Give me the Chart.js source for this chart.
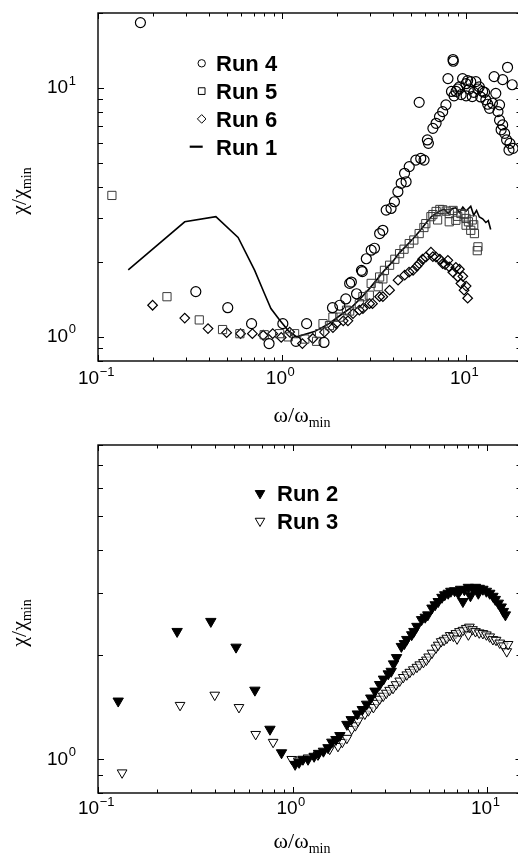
<!DOCTYPE html>
<html>
<head>
<meta charset="utf-8">
<script src="https://cdn.jsdelivr.net/npm/chart.js@4.4.0/dist/chart.umd.min.js"></script>
<style>
  html, body { margin: 0; padding: 0; background: #fff; width: 518px; height: 854px; overflow: hidden; }
  canvas { position: absolute; left: 0; }
  #chartTop { top: 0; }
  #chartBottom { top: 430px; }
</style>
</head>
<body>
<canvas id="chartTop" width="524" height="430"></canvas>
<canvas id="chartBottom" width="524" height="424"></canvas>
<script>
// ---- top panel data (omega/omega_min, chi/chi_min) ----
const run4X = [0.17, 0.34, 0.507, 0.683, 0.85, 1.01, 1.19, 1.36, 1.69, 1.88, 2.06, 2.22, 2.33, 2.54, 2.73, 2.38, 2.70, 2.87, 3.05, 3.18, 3.39, 3.53, 3.68, 3.91, 4.08, 4.26, 4.44, 4.72, 4.63, 4.91, 5.33, 5.67, 5.91, 6.16, 6.24, 6.60, 6.87, 7.17, 7.46, 7.77, 5.56, 7.97, 8.49, 8.52, 8.33, 8.82, 9.2, 9.57, 9.99, 10.4, 10.8, 10.6, 11.3, 11.8, 12.3, 12.8, 13.4, 13.9, 14.5, 14.2, 15.8, 16.8, 17.8, 14.9, 15.2, 15.5, 16.2, 16.6, 17.3, 18.0, 17.1, 15.8, 15.2, 9.4, 10.2, 11.0, 11.6, 12.0, 10.0, 12.6, 13.1, 9.0, 8.6];
const run4Y = [18.3, 1.52, 1.31, 1.13, 0.94, 1.13, 0.96, 1.13, 0.95, 1.31, 1.34, 1.42, 1.64, 1.49, 1.83, 1.66, 1.85, 2.06, 2.23, 2.27, 2.60, 2.68, 3.23, 3.28, 3.49, 3.83, 4.14, 4.20, 4.54, 4.83, 5.13, 5.21, 5.13, 6.18, 5.99, 6.88, 7.21, 7.67, 8.03, 8.55, 8.75, 10.9, 13.0, 12.8, 9.68, 9.68, 10.1, 10.9, 10.4, 9.9, 9.23, 10.6, 10.6, 10.1, 9.68, 8.96, 8.28, 8.68, 9.51, 11.1, 10.8, 12.1, 10.3, 8.03, 7.42, 6.79, 6.57, 6.18, 5.99, 5.72, 5.63, 7.1, 8.55, 9.4, 10.7, 9.6, 9.9, 9.2, 9.3, 9.6, 8.6, 9.9, 9.3];

const run5X = [0.119, 0.237, 0.355, 0.475, 0.59, 0.8, 0.97, 1.08, 1.17, 1.33, 1.54, 1.6, 1.67, 1.81, 1.89, 2.06, 2.24, 2.33, 2.63, 2.75, 2.98, 3.05, 3.33, 3.39, 3.53, 3.6, 3.84, 4.1, 4.35, 4.6, 4.91, 5.2, 5.56, 5.9, 6.04, 6.44, 6.6, 6.87, 7.0, 7.2, 7.46, 7.8, 8.1, 8.1, 8.5, 8.8, 9.0, 9.37, 9.8, 10.0, 10.0, 10.3, 10.6, 10.8, 11.0, 11.1, 11.5, 11.6];
const run5Y = [3.70, 1.45, 1.17, 1.07, 1.03, 1.02, 1.03, 1.0, 1.03, 0.98, 0.96, 1.03, 1.13, 1.11, 1.2, 1.2, 1.28, 1.27, 1.36, 1.45, 1.47, 1.64, 1.59, 1.74, 1.71, 1.85, 1.94, 2.05, 2.16, 2.25, 2.37, 2.45, 2.60, 2.75, 2.85, 3.04, 3.1, 3.19, 2.95, 3.25, 3.24, 3.2, 3.13, 2.9, 3.22, 2.94, 3.05, 3.13, 3.1, 2.81, 2.99, 2.9, 2.68, 2.95, 2.82, 2.6, 2.22, 2.3];

const run6X = [0.198, 0.296, 0.396, 0.50, 0.595, 0.69, 0.79, 0.89, 0.99, 1.1, 1.29, 1.47, 1.70, 1.89, 1.97, 2.15, 2.28, 2.43, 2.63, 2.75, 2.99, 3.10, 3.39, 3.53, 3.84, 4.27, 4.64, 4.9, 5.15, 5.4, 5.56, 5.8, 6.04, 6.44, 6.6, 6.87, 7.2, 7.46, 7.7, 7.96, 8.10, 8.47, 8.8, 9.03, 9.2, 9.37, 9.6, 9.75, 10.0, 10.2];
const run6Y = [1.34, 1.19, 1.08, 1.04, 1.03, 1.03, 1.015, 1.03, 0.995, 1.045, 0.94, 0.985, 1.045, 1.09, 1.13, 1.16, 1.16, 1.24, 1.28, 1.30, 1.36, 1.36, 1.45, 1.45, 1.54, 1.69, 1.77, 1.82, 1.85, 1.92, 1.97, 2.05, 2.09, 2.19, 2.1, 2.09, 2.05, 1.97, 1.95, 2.03, 1.91, 1.82, 1.9, 1.74, 1.87, 1.64, 1.75, 1.54, 1.6, 1.43];

const run1X = [0.146, 0.296, 0.437, 0.577, 0.71, 0.80, 0.87, 0.97, 1.08, 1.2, 1.5, 1.8, 2.1, 2.4, 2.7, 3.0, 3.3, 3.6, 4.0, 4.35, 4.7, 5.15, 5.6, 6.04, 6.5, 7.17, 7.6, 8.0, 8.4, 8.8, 9.2, 9.6, 10.0, 10.6, 11.0, 11.4, 11.8, 12.3, 12.8, 13.2, 13.6];
const run1Y = [1.86, 2.90, 3.04, 2.51, 1.85, 1.5, 1.3, 1.17, 1.06, 1.0, 1.05, 1.13, 1.23, 1.32, 1.44, 1.57, 1.71, 1.85, 2.01, 2.18, 2.31, 2.48, 2.66, 2.86, 3.05, 3.2, 3.26, 3.13, 3.28, 3.3, 3.16, 3.32, 3.2, 3.35, 3.08, 3.22, 3.03, 2.98, 2.88, 2.93, 2.7];

// ---- bottom panel data ----
const run2X = [0.127, 0.255, 0.380, 0.512, 0.64, 0.765, 0.877, 1.03, 1.08, 1.13, 1.2, 1.29, 1.36, 1.44, 1.52, 1.59, 1.67, 1.75, 1.90, 2.0, 2.15, 2.28, 2.4, 2.52, 2.65, 2.8, 2.93, 3.1, 3.21, 3.3, 3.42, 3.62, 3.75, 3.86, 4.09, 4.2, 4.35, 4.6, 4.8, 4.95, 5.2, 5.4, 5.6, 5.85, 6.05, 6.3, 6.5, 6.8, 7.1, 7.3, 7.5, 7.63, 8.0, 8.2, 8.4, 8.7, 9.0, 9.1, 9.5, 9.9, 10.3, 10.7, 11.0, 11.4, 11.8, 12.1, 12.4];
const run2Y = [1.47, 2.33, 2.49, 2.10, 1.58, 1.22, 1.044, 0.967, 0.98, 1.0, 1.0, 1.02, 1.04, 1.055, 1.08, 1.12, 1.14, 1.17, 1.26, 1.3, 1.35, 1.39, 1.44, 1.5, 1.57, 1.64, 1.70, 1.76, 1.79, 1.88, 1.96, 2.11, 2.15, 2.21, 2.28, 2.33, 2.41, 2.52, 2.56, 2.60, 2.72, 2.78, 2.84, 2.92, 2.97, 3.0, 3.04, 3.05, 3.0, 3.08, 2.84, 3.07, 3.12, 2.95, 3.1, 3.12, 3.0, 3.1, 3.08, 3.04, 3.0, 2.94, 2.88, 2.81, 2.74, 2.66, 2.6];

const run3X = [0.133, 0.264, 0.398, 0.53, 0.646, 0.794, 0.99, 1.07, 1.2, 1.35, 1.55, 1.71, 1.8, 1.90, 2.01, 2.1, 2.17, 2.35, 2.45, 2.6, 2.7, 2.8, 2.92, 3.03, 3.15, 3.28, 3.4, 3.55, 3.7, 3.86, 4.0, 4.17, 4.35, 4.5, 4.7, 4.87, 5.0, 5.2, 5.45, 5.6, 5.8, 6.0, 6.2, 6.45, 6.7, 6.9, 7.0, 7.2, 7.5, 7.8, 8.0, 8.1, 8.4, 8.7, 9.1, 9.5, 9.9, 10.3, 10.7, 11.1, 11.6, 12.1, 12.6, 12.8];
const run3Y = [0.915, 1.43, 1.53, 1.41, 1.18, 1.12, 1.0, 0.99, 1.01, 1.03, 1.07, 1.09, 1.12, 1.15, 1.22, 1.25, 1.29, 1.35, 1.38, 1.41, 1.45, 1.49, 1.52, 1.55, 1.58, 1.60, 1.64, 1.68, 1.72, 1.75, 1.78, 1.81, 1.84, 1.87, 1.9, 1.93, 1.97, 2.02, 2.09, 2.13, 2.18, 2.2, 2.23, 2.27, 2.26, 2.3, 2.22, 2.33, 2.35, 2.38, 2.28, 2.4, 2.36, 2.33, 2.31, 2.3, 2.28, 2.25, 2.21, 2.2, 2.16, 2.12, 2.04, 2.14];

// ---- axes ----
const xTicksTop = [0.1, 0.2, 0.3, 0.4, 0.5, 0.6, 0.7, 0.8, 0.9, 1, 2, 3, 4, 5, 6, 7, 8, 9, 10, 20];
const yTicksTop = [0.8, 0.9, 1, 2, 3, 4, 5, 6, 7, 8, 9, 10, 20];
const xTicksBottom = [0.1, 0.2, 0.3, 0.4, 0.5, 0.6, 0.7, 0.8, 0.9, 1, 2, 3, 4, 5, 6, 7, 8, 9, 10];
const yTicksBottom = [0.8, 0.9, 1, 2, 3, 4, 5, 6, 7, 8];

const xy = (xs, ys) => xs.map((x, i) => ({ x: x, y: ys[i] }));
const isDecade = v => Math.abs(Math.log10(v) - Math.round(Math.log10(v))) < 1e-9;

function drawPower(ctx, value, x, y, align) {
  const exp = Math.round(Math.log10(value));
  const sup = exp < 0 ? '\u2212' + (-exp) : String(exp);
  ctx.textBaseline = 'middle';
  ctx.textAlign = 'left';
  ctx.font = '19px "Liberation Sans", Arial, sans-serif';
  const wb = ctx.measureText('10').width;
  ctx.font = '13px "Liberation Sans", Arial, sans-serif';
  const ws = ctx.measureText(sup).width;
  const start = align === 'center' ? x - (wb + ws) / 2 : x;
  ctx.font = '19px "Liberation Sans", Arial, sans-serif';
  ctx.fillText('10', start, y);
  ctx.font = '13px "Liberation Sans", Arial, sans-serif';
  ctx.fillText(sup, start + wb + 0.5, y - 7);
}

function drawSub(ctx, main, sub, cx, baseline) {
  ctx.textBaseline = 'alphabetic';
  ctx.textAlign = 'left';
  ctx.font = '22px "Liberation Serif", "Times New Roman", serif';
  const wm = ctx.measureText(main).width;
  ctx.font = '14px "Liberation Serif", "Times New Roman", serif';
  const ws = ctx.measureText(sub).width;
  const start = cx - (wm + ws) / 2;
  ctx.font = '22px "Liberation Serif", "Times New Roman", serif';
  ctx.fillText(main, start, baseline);
  ctx.font = '14px "Liberation Serif", "Times New Roman", serif';
  ctx.fillText(sub, start + wm, baseline + 5);
}

const paperAxes = {
  id: 'paperAxes',
  afterDatasetsDraw(chart, args, o) {
    const ctx = chart.ctx, a = chart.chartArea;
    const xs = chart.scales.x, ys = chart.scales.y;
    ctx.save();
    ctx.strokeStyle = '#000';
    ctx.fillStyle = '#000';
    ctx.lineWidth = 1;
    ctx.beginPath();
    xs.ticks.forEach(t => {
      const px = Math.round(xs.getPixelForValue(t.value)) + 0.5;
      const len = t.major ? 6 : 3.5;
      ctx.moveTo(px, a.bottom); ctx.lineTo(px, a.bottom - len);
      ctx.moveTo(px, a.top); ctx.lineTo(px, a.top + len);
    });
    ys.ticks.forEach(t => {
      const py = Math.round(ys.getPixelForValue(t.value)) + 0.5;
      const len = t.major ? 6 : 5;
      ctx.moveTo(a.left, py); ctx.lineTo(a.left + len, py);
      ctx.moveTo(a.right, py); ctx.lineTo(a.right - len, py);
    });
    ctx.stroke();
    ctx.lineWidth = 1.4;
    ctx.strokeRect(a.left, a.top, a.right - a.left, a.bottom - a.top);

    xs.ticks.filter(t => t.major).forEach(t =>
      drawPower(ctx, t.value, xs.getPixelForValue(t.value) - 2, a.bottom + o.xLabelGap, 'center'));
    ys.ticks.filter(t => t.major).forEach(t =>
      drawPower(ctx, t.value, 47, ys.getPixelForValue(t.value), 'left'));

    drawSub(ctx, '\u03c9/\u03c9', 'min', 302, a.bottom + o.xTitleGap);
    ctx.save();
    ctx.translate(26, (a.top + a.bottom) / 2 + 4);
    ctx.rotate(-Math.PI / 2);
    drawSub(ctx, '\u03c7/\u03c7', 'min', 0, 0);
    ctx.restore();

    // legend inside the frame
    const lg = o.legend;
    lg.items.forEach((idx, i) => {
      const ds = chart.data.datasets[idx];
      const y = lg.top + i * lg.step;
      ctx.strokeStyle = '#000';
      if (ds.showLine) {
        ctx.lineWidth = 2.2;
        ctx.beginPath();
        ctx.moveTo(lg.x - 12, y); ctx.lineTo(lg.x + 1, y);
        ctx.stroke();
      } else {
        ctx.lineWidth = 1;
        ctx.fillStyle = ds.pointBackgroundColor;
        Chart.helpers.drawPoint(ctx, {
          pointStyle: ds.pointStyle, rotation: ds.pointRotation || 0,
          radius: lg.radius[i], borderWidth: 1
        }, lg.x, y);
      }
      ctx.fillStyle = '#000';
      ctx.font = 'bold 22px "Liberation Sans", Arial, sans-serif';
      ctx.textAlign = 'left';
      ctx.textBaseline = 'alphabetic';
      ctx.fillText(ds.label, lg.textX, y + 8);
    });
    ctx.restore();
  }
};

function logAxis(min, max, ticks, size, horizontal) {
  return {
    type: 'logarithmic',
    min: min,
    max: max,
    bounds: 'data',
    grid: { display: false, drawTicks: false },
    border: { display: false },
    ticks: { display: false },
    afterBuildTicks: s => { s.ticks = ticks.map(v => ({ value: v, major: isDecade(v) })); },
    afterFit: s => { if (horizontal) s.height = size; else s.width = size; }
  };
}

function baseOptions(xMin, xMax, xTicks, yMin, yMax, yTicks, canvasH, top, bottom, extra) {
  return {
    responsive: false,
    animation: false,
    events: [],
    layout: { padding: { left: 0, right: 2.5, top: top, bottom: 0 }, autoPadding: false },
    plugins: { legend: { display: false }, tooltip: { enabled: false }, paperAxes: extra },
    scales: {
      x: logAxis(xMin, xMax, xTicks, canvasH - bottom, true),
      y: logAxis(yMin, yMax, yTicks, 98, false)
    }
  };
}

new Chart(document.getElementById('chartTop'), {
  type: 'scatter',
  data: {
    datasets: [
      { label: 'Run 4', data: xy(run4X, run4Y), pointStyle: 'circle', pointRadius: 5,
        pointBorderColor: '#000', pointBackgroundColor: 'rgba(0,0,0,0)', pointBorderWidth: 1.2 },
      { label: 'Run 5', data: xy(run5X, run5Y), pointStyle: 'rect', pointRadius: 5.8,
        pointBorderColor: '#3a3a3a', pointBackgroundColor: 'rgba(0,0,0,0)', pointBorderWidth: 1 },
      { label: 'Run 6', data: xy(run6X, run6Y), pointStyle: 'rectRot', pointRadius: 4.8,
        pointBorderColor: '#000', pointBackgroundColor: 'rgba(0,0,0,0)', pointBorderWidth: 1.2 },
      { label: 'Run 1', data: xy(run1X, run1Y), showLine: true, pointRadius: 0,
        borderColor: '#000', borderWidth: 1.6, tension: 0 }
    ]
  },
  options: baseOptions(0.1, 20, xTicksTop, 0.8, 20, yTicksTop, 430, 13, 361, {
    xLabelGap: 18, xTitleGap: 61,
    legend: { items: [0, 1, 2, 3], x: 201.7, textX: 216, top: 63.3, step: 27.8, radius: [3.7, 4.7, 4.3, 0] }
  }),
  plugins: [paperAxes]
});

new Chart(document.getElementById('chartBottom'), {
  type: 'scatter',
  data: {
    datasets: [
      { label: 'Run 2', data: xy(run2X, run2Y), pointStyle: 'triangle', pointRotation: 180, pointRadius: 6,
        pointBorderColor: '#000', pointBackgroundColor: '#000', pointBorderWidth: 1 },
      { label: 'Run 3', data: xy(run3X, run3Y), pointStyle: 'triangle', pointRotation: 180, pointRadius: 5.6,
        pointBorderColor: '#000', pointBackgroundColor: 'rgba(255,255,255,0.6)', pointBorderWidth: 1 }
    ]
  },
  options: baseOptions(0.1, 15, xTicksBottom, 0.8, 8, yTicksBottom, 424, 15, 363, {
    xLabelGap: 16, xTitleGap: 55,
    legend: { items: [0, 1], x: 260, textX: 277, top: 63.3, step: 27.7, radius: [5.5, 5.5] }
  }),
  plugins: [paperAxes]
});
</script>
</body>
</html>
